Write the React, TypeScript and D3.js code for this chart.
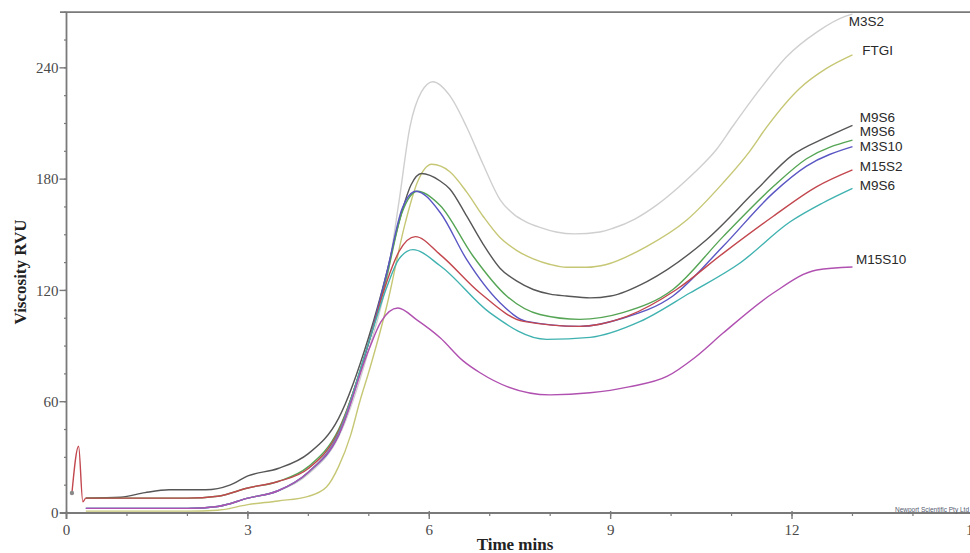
import React, { useEffect } from "react";
import * as d3 from "d3";

type Pt = [number, number];

// ---- data (time in minutes, viscosity in RVU) ----
const xMajorTicks = [0, 3, 6, 9, 12, 15];
const xMinorTicks = d3.range(0, 16, 1);
const yMajorTicks = [0, 60, 120, 180, 240];
const yMinorTicks = d3.range(0, 271, 15);

const seriesM3S2: Pt[] = [
  [0.32, 2.5], [1, 2.5], [2, 2.5], [2.5, 3.5], [3, 8], [3.5, 12], [4, 21], [4.5, 41], [5, 88], [5.3, 126],
  [5.5, 168], [5.68, 208], [5.87, 227], [6.06, 232.5], [6.34, 225], [6.62, 208], [6.89, 188], [7.17, 169],
  [7.4, 161], [7.6, 157], [7.83, 154], [8.1, 151.5], [8.4, 150.5], [8.82, 151.5], [9.04, 153.5], [9.4, 158.5],
  [9.76, 166], [10.1, 175], [10.4, 184], [10.75, 196], [11.02, 208.5], [11.47, 228.5], [11.91, 246],
  [12.41, 259.3], [12.9, 268], [13, 269],
];
const seriesFTGI: Pt[] = [
  [0.32, 1], [1, 1], [2, 1], [2.5, 1.5], [3, 4.5], [3.5, 6.5], [4, 9], [4.3, 14], [4.5, 25], [4.7, 42],
  [4.85, 60], [5, 76], [5.3, 112], [5.6, 156], [5.8, 178], [6.04, 188], [6.34, 184], [6.62, 173], [6.89, 160],
  [7.17, 148.5], [7.45, 141.5], [7.72, 137], [8.0, 134], [8.27, 132.5], [8.6, 132.5], [8.93, 134], [9.6, 143.8],
  [10.26, 158], [10.86, 178], [11.3, 195], [11.58, 208], [12.13, 229], [12.57, 239.7], [13, 247],
];
const seriesM9S6a: Pt[] = [
  [0.32, 8], [0.9, 8.5], [1.3, 11], [1.7, 12.5], [2.3, 12.5], [2.7, 15], [3, 20], [3.5, 24], [4, 32], [4.5, 51],
  [5, 95], [5.3, 130], [5.5, 157], [5.7, 177], [5.87, 183], [6.18, 179], [6.34, 174.7], [6.62, 160], [6.89, 145],
  [7.17, 132], [7.45, 125], [7.72, 120.5], [8.0, 118], [8.27, 117], [8.66, 116], [9.0, 117], [9.6, 124.8],
  [10.59, 147.5], [11.42, 174.5], [12.0, 192.8], [12.57, 202.6], [13, 209],
];
const seriesM9S6b: Pt[] = [
  [0.32, 8], [1, 8], [2, 8], [2.5, 9], [3, 13.5], [3.5, 17], [4, 25], [4.5, 45], [5, 92], [5.3, 128],
  [5.55, 162], [5.81, 173.5], [6.18, 165.8], [6.72, 138.7], [7.28, 117], [7.83, 107], [8.49, 104.4], [9.2, 108],
  [10.03, 120.5], [10.86, 149], [11.69, 176], [12.24, 191], [13, 201],
];
const seriesM3S10: Pt[] = [
  [0.32, 2.5], [1, 2.5], [2, 2.5], [2.5, 3.5], [3, 8], [3.5, 12], [4, 22], [4.5, 42], [5, 92], [5.3, 130],
  [5.55, 164], [5.78, 173.5], [6.18, 162], [6.62, 136.6], [7.17, 113.4], [7.61, 103.3], [8.49, 100.6], [9.2, 105],
  [10.03, 117], [10.86, 143.8], [11.69, 172.6], [12.24, 187], [13, 197.5],
];
const seriesM15S2: Pt[] = [
  [0.09, 10.8], [0.2, 36], [0.27, 6], [0.32, 8], [1, 8], [2, 8], [2.5, 9], [3, 13.5], [3.5, 17], [4, 24],
  [4.5, 44], [5, 92], [5.3, 125], [5.5, 141], [5.77, 149], [6.18, 139.3], [6.84, 118.6], [7.56, 103.3],
  [8.49, 100.6], [9.27, 106], [10.09, 120.5], [10.86, 140], [11.69, 160], [12.41, 176], [13, 185],
];
const seriesM9S6c: Pt[] = [
  [0.32, 2.5], [1, 2.5], [2, 2.5], [2.5, 3.5], [3, 8], [3.5, 12], [4, 22], [4.5, 43], [5, 92], [5.3, 122],
  [5.5, 137], [5.73, 142], [6.18, 133.3], [7.0, 108], [7.94, 93.6], [8.66, 94.7], [9.49, 103.3], [10.31, 118.6],
  [11.14, 134.8], [11.97, 157], [12.5, 167], [13, 175],
];
const seriesM15S10: Pt[] = [
  [0.32, 2.5], [1, 2.5], [2, 2.5], [2.5, 3.5], [3, 8], [3.5, 12], [4, 22], [4.5, 42], [5, 88], [5.2, 103],
  [5.48, 110.5], [5.8, 104], [6.18, 94.5], [6.56, 82], [6.84, 75.6], [7.3, 68], [8.0, 63.7], [8.66, 64.8],
  [9.3, 68], [9.93, 73.6], [10.4, 84], [10.86, 97], [11.69, 118.6], [12.41, 131], [13, 132.6],
];

const seriesList: Pt[][] = [
  seriesM3S2, seriesFTGI, seriesM9S6a, seriesM9S6b, seriesM3S10, seriesM15S2, seriesM9S6c, seriesM15S10,
];
const seriesColors = ["#cfcfcf", "#c6c775", "#565656", "#55a555", "#5a56c4", "#c2474e", "#3fb2b0", "#b050b0"];

const labelNames = ["M3S2", "FTGI", "M9S6", "M9S6", "M3S10", "M15S2", "M9S6", "M15S10"];
const labelTimes = [12.94, 13.16, 13.12, 13.12, 13.12, 13.12, 13.12, 13.06];
const labelValues = [262.5, 247, 211, 203, 195, 184.5, 174, 134.5];

const spikeStart: Pt = [0.09, 10.8];

export default function App() {
  useEffect(() => {
    document.body.style.margin = "0";
  }, []);

  const W = 970;
  const H = 553;
  const x = d3.scaleLinear().domain([0, 15]).range([66.5, 973.4]);
  const y = d3.scaleLinear().domain([0, 270]).range([513, 12.2]);

  const line = d3
    .line<Pt>()
    .x((d) => x(d[0]))
    .y((d) => y(d[1]))
    .curve(d3.curveMonotoneX);

  const axisColor = "#7a7a7a";
  const tickFont = "'Liberation Serif', 'Times New Roman', serif";
  const x0 = x(0);
  const yBase = y(0);

  return (
    <svg
      width={W}
      height={H}
      style={{ position: "absolute", left: 0, top: 0, background: "#fff", display: "block" }}
    >
      <rect x={0} y={0} width={W} height={H} fill="#fff" />
      {/* top frame line */}
      <line x1={60} x2={W} y1={y(270)} y2={y(270)} stroke={axisColor} strokeWidth={1.8} />
      {/* y axis */}
      <line x1={x0} x2={x0} y1={y(270)} y2={yBase + 6} stroke={axisColor} strokeWidth={1.8} />
      {/* x axis */}
      <line x1={60} x2={W} y1={yBase} y2={yBase} stroke={axisColor} strokeWidth={1.8} />

      {yMinorTicks.map((v) => (
        <line key={"ym" + v} x1={x0 - 2.5} x2={x0} y1={y(v)} y2={y(v)} stroke={axisColor} strokeWidth={1.2} />
      ))}
      {yMajorTicks.map((v) => (
        <g key={"yM" + v}>
          <line x1={x0 - 7} x2={x0} y1={y(v)} y2={y(v)} stroke={axisColor} strokeWidth={1.4} />
          <text
            x={x0 - 8}
            y={y(v)}
            dy="0.35em"
            textAnchor="end"
            fontFamily={tickFont}
            fontSize={15}
            fill="#4a4a4a"
          >
            {v}
          </text>
        </g>
      ))}

      {xMinorTicks.map((t) => (
        <line key={"xm" + t} x1={x(t)} x2={x(t)} y1={yBase} y2={yBase + 3} stroke={axisColor} strokeWidth={1.2} />
      ))}
      {xMajorTicks.map((t) => (
        <g key={"xM" + t}>
          <line x1={x(t)} x2={x(t)} y1={yBase - 2} y2={yBase + 6} stroke={axisColor} strokeWidth={1.4} />
          <text
            x={x(t)}
            y={yBase + 22}
            textAnchor="middle"
            fontFamily={tickFont}
            fontSize={15}
            fill="#4a4a4a"
          >
            {t}
          </text>
        </g>
      ))}

      {/* series lines */}
      {seriesList.map((s, i) => (
        <path
          key={"s" + i}
          d={line(s) || ""}
          fill="none"
          stroke={seriesColors[i]}
          strokeWidth={1.4}
          strokeLinejoin="round"
        />
      ))}
      <circle cx={x(spikeStart[0])} cy={y(spikeStart[1])} r={2.2} fill="#8a8a8a" />

      {/* series labels */}
      {labelNames.map((n, i) => (
        <text
          key={"l" + i}
          x={x(labelTimes[i])}
          y={y(labelValues[i])}
          fontFamily="'Liberation Sans', Arial, sans-serif"
          fontSize={13.5}
          fill="#2a2a2a"
        >
          {n}
        </text>
      ))}

      {/* axis titles */}
      <text
        x={515}
        y={550}
        textAnchor="middle"
        fontFamily={tickFont}
        fontWeight="bold"
        fontSize={17}
        fill="#222"
      >
        Time mins
      </text>
      <text
        transform={`translate(26, 272) rotate(-90)`}
        textAnchor="middle"
        fontFamily={tickFont}
        fontWeight="bold"
        fontSize={17}
        fill="#222"
      >
        Viscosity RVU
      </text>

      <text
        x={W - 1}
        y={yBase - 1.5}
        textAnchor="end"
        fontFamily="'Liberation Sans', Arial, sans-serif"
        fontSize={6.5}
        fill="#555a70"
      >
        Newport Scientific Pty Ltd
      </text>
    </svg>
  );
}
